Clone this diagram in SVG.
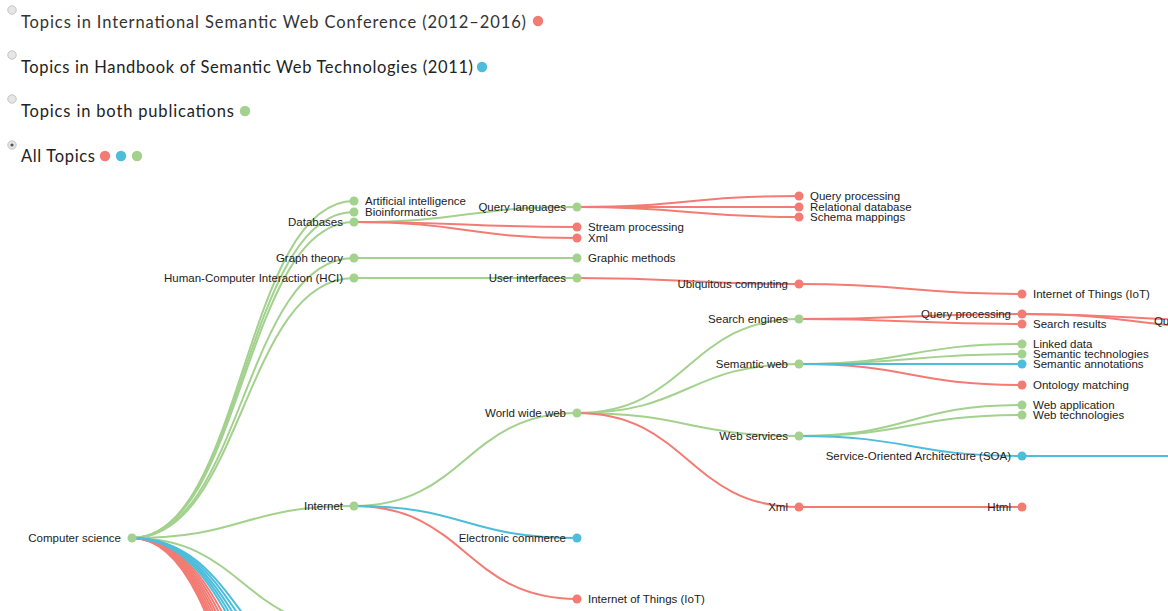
<svg xmlns="http://www.w3.org/2000/svg" width="1168" height="611" viewBox="0 0 1168 611">
<style>
.lg{font-family:Lato,"Open Sans","Noto Sans",sans-serif;font-size:16.5px;fill:#222}
.lg1{fill:#333}
.radio{fill:#e6e6e6;stroke:#c4c4c4;stroke-width:1}
.link{fill:none;stroke-width:2}
.g{stroke:#a3d18e}
.r{stroke:#f47b73}
.b{stroke:#4dbddb}
.ng{fill:#a3d18e}
.nr{fill:#f47b73}
.nb{fill:#4dbddb}
.lb{font-family:"Liberation Sans",Arial,sans-serif;font-size:11.5px;fill:#222}
.L{text-anchor:end}
</style>
<rect width="1168" height="611" fill="#ffffff"/>
<g id="legend">
<circle class="radio" cx="12" cy="10" r="4.2"/>
<text class="lg lg1" x="21" y="28" textLength="505" lengthAdjust="spacing">Topics in International Semantic Web Conference (2012–2016)</text>
<circle class="nr" cx="538" cy="21" r="5.2"/>
<circle class="radio" cx="12" cy="55" r="4.2"/>
<text class="lg" x="21" y="73" textLength="452" lengthAdjust="spacing">Topics in Handbook of Semantic Web Technologies (2011)</text>
<circle class="nb" cx="482" cy="67" r="5.2"/>
<circle class="radio" cx="12" cy="99" r="4.2"/>
<text class="lg" x="21" y="117" textLength="213" lengthAdjust="spacing">Topics in both publications</text>
<circle class="ng" cx="245" cy="111" r="5.2"/>
<circle class="radio" cx="12" cy="145" r="4.2"/>
<circle cx="12" cy="145" r="1.6" fill="#555"/>
<text class="lg" x="21" y="162" textLength="74" lengthAdjust="spacing">All Topics</text>
<circle class="nr" cx="105" cy="156" r="5.2"/>
<circle class="nb" cx="121" cy="156" r="5.2"/>
<circle class="ng" cx="137" cy="156" r="5.2"/>
</g>
<g id="connectors">
<path class="link g" d="M132,538C243,538 243,201 354,201"/>
<path class="link g" d="M132,538C243,538 243,212 354,212"/>
<path class="link g" d="M132,538C243,538 243,222 354,222"/>
<path class="link g" d="M132,538C243,538 243,258 354,258"/>
<path class="link g" d="M132,538C243,538 243,278 354,278"/>
<path class="link g" d="M132,538C243,538 243,506 354,506"/>
<path class="link g" d="M132,538C243,538 243,628 354,628"/>
<path class="link g" d="M354,222C465.5,222 465.5,207 577,207"/>
<path class="link g" d="M354,258C465.5,258 465.5,258 577,258"/>
<path class="link g" d="M354,278C465.5,278 465.5,278 577,278"/>
<path class="link g" d="M354,506C465.5,506 465.5,413 577,413"/>
<path class="link g" d="M577,413C688,413 688,319 799,319"/>
<path class="link g" d="M577,413C688,413 688,364 799,364"/>
<path class="link g" d="M577,413C688,413 688,436 799,436"/>
<path class="link g" d="M799,364C910.5,364 910.5,344 1022,344"/>
<path class="link g" d="M799,364C910.5,364 910.5,354 1022,354"/>
<path class="link g" d="M799,436C910.5,436 910.5,405 1022,405"/>
<path class="link g" d="M799,436C910.5,436 910.5,415 1022,415"/>
<path class="link r" d="M132,538C243,538 243,770 354,770"/>
<path class="link r" d="M132,538C243,538 243,790 354,790"/>
<path class="link r" d="M132,538C243,538 243,810 354,810"/>
<path class="link r" d="M132,538C243,538 243,830 354,830"/>
<path class="link r" d="M132,538C243,538 243,850 354,850"/>
<path class="link r" d="M132,538C243,538 243,870 354,870"/>
<path class="link r" d="M132,538C243,538 243,890 354,890"/>
<path class="link r" d="M132,538C243,538 243,910 354,910"/>
<path class="link r" d="M354,222C465.5,222 465.5,227 577,227"/>
<path class="link r" d="M354,222C465.5,222 465.5,238 577,238"/>
<path class="link r" d="M577,207C688,207 688,196 799,196"/>
<path class="link r" d="M577,207C688,207 688,207 799,207"/>
<path class="link r" d="M577,207C688,207 688,217 799,217"/>
<path class="link r" d="M577,278C688,278 688,284 799,284"/>
<path class="link r" d="M799,284C910.5,284 910.5,294 1022,294"/>
<path class="link r" d="M354,506C465.5,506 465.5,599 577,599"/>
<path class="link r" d="M577,413C688,413 688,507 799,507"/>
<path class="link r" d="M799,319C910.5,319 910.5,314 1022,314"/>
<path class="link r" d="M799,319C910.5,319 910.5,324 1022,324"/>
<path class="link r" d="M799,364C910.5,364 910.5,385 1022,385"/>
<path class="link r" d="M799,507C910.5,507 910.5,507 1022,507"/>
<path class="link r" d="M1022,314C1133,314 1133,321 1244,321"/>
<path class="link r" d="M1022,314C1133,314 1133,328 1244,328"/>
<path class="link b" d="M132,538C243,538 243,690 354,690"/>
<path class="link b" d="M132,538C243,538 243,705 354,705"/>
<path class="link b" d="M132,538C243,538 243,720 354,720"/>
<path class="link b" d="M132,538C243,538 243,735 354,735"/>
<path class="link b" d="M132,538C243,538 243,750 354,750"/>
<path class="link b" d="M354,506C465.5,506 465.5,538 577,538"/>
<path class="link b" d="M799,364C910.5,364 910.5,364 1022,364"/>
<path class="link b" d="M799,436C910.5,436 910.5,456 1022,456"/>
<path class="link b" d="M1022,456C1133,456 1133,456 1244,456"/>
</g>
<g id="n-computer-science"><circle class="ng" cx="132" cy="538" r="4.5"/><text class="lb L" x="121" y="542">Computer science</text></g>
<g id="n-ai"><circle class="ng" cx="354" cy="201" r="4.5"/><text class="lb" x="365" y="205">Artificial intelligence</text></g>
<g id="n-bio"><circle class="ng" cx="354" cy="212" r="4.5"/><text class="lb" x="365" y="216">Bioinformatics</text></g>
<g id="n-databases"><circle class="ng" cx="354" cy="222" r="4.5"/><text class="lb L" x="343" y="226">Databases</text></g>
<g id="n-graph-theory"><circle class="ng" cx="354" cy="258" r="4.5"/><text class="lb L" x="343" y="262">Graph theory</text></g>
<g id="n-hci"><circle class="ng" cx="354" cy="278" r="4.5"/><text class="lb L" x="343" y="282">Human-Computer Interaction (HCI)</text></g>
<g id="n-internet"><circle class="ng" cx="354" cy="506" r="4.5"/><text class="lb L" x="343" y="510">Internet</text></g>
<g id="n-query-languages"><circle class="ng" cx="577" cy="207" r="4.5"/><text class="lb L" x="566" y="211">Query languages</text></g>
<g id="n-stream-processing"><circle class="nr" cx="577" cy="227" r="4.5"/><text class="lb" x="588" y="231">Stream processing</text></g>
<g id="n-xml-1"><circle class="nr" cx="577" cy="238" r="4.5"/><text class="lb" x="588" y="242">Xml</text></g>
<g id="n-graphic-methods"><circle class="ng" cx="577" cy="258" r="4.5"/><text class="lb" x="588" y="262">Graphic methods</text></g>
<g id="n-user-interfaces"><circle class="ng" cx="577" cy="278" r="4.5"/><text class="lb L" x="566" y="282">User interfaces</text></g>
<g id="n-www"><circle class="ng" cx="577" cy="413" r="4.5"/><text class="lb L" x="566" y="417">World wide web</text></g>
<g id="n-ecommerce"><circle class="nb" cx="577" cy="538" r="4.5"/><text class="lb L" x="566" y="542">Electronic commerce</text></g>
<g id="n-iot-1"><circle class="nr" cx="577" cy="599" r="4.5"/><text class="lb" x="588" y="603">Internet of Things (IoT)</text></g>
<g id="n-query-processing-1"><circle class="nr" cx="799" cy="196" r="4.5"/><text class="lb" x="810" y="200">Query processing</text></g>
<g id="n-relational-database"><circle class="nr" cx="799" cy="207" r="4.5"/><text class="lb" x="810" y="211">Relational database</text></g>
<g id="n-schema-mappings"><circle class="nr" cx="799" cy="217" r="4.5"/><text class="lb" x="810" y="221">Schema mappings</text></g>
<g id="n-ubiquitous"><circle class="nr" cx="799" cy="284" r="4.5"/><text class="lb L" x="788" y="288">Ubiquitous computing</text></g>
<g id="n-search-engines"><circle class="ng" cx="799" cy="319" r="4.5"/><text class="lb L" x="788" y="323">Search engines</text></g>
<g id="n-semantic-web"><circle class="ng" cx="799" cy="364" r="4.5"/><text class="lb L" x="788" y="368">Semantic web</text></g>
<g id="n-web-services"><circle class="ng" cx="799" cy="436" r="4.5"/><text class="lb L" x="788" y="440">Web services</text></g>
<g id="n-xml-2"><circle class="nr" cx="799" cy="507" r="4.5"/><text class="lb L" x="788" y="511">Xml</text></g>
<g id="n-iot-2"><circle class="nr" cx="1022" cy="294" r="4.5"/><text class="lb" x="1033" y="298">Internet of Things (IoT)</text></g>
<g id="n-query-processing-2"><circle class="nr" cx="1022" cy="314" r="4.5"/><text class="lb L" x="1011" y="318">Query processing</text></g>
<g id="n-search-results"><circle class="nr" cx="1022" cy="324" r="4.5"/><text class="lb" x="1033" y="328">Search results</text></g>
<g id="n-linked-data"><circle class="ng" cx="1022" cy="344" r="4.5"/><text class="lb" x="1033" y="348">Linked data</text></g>
<g id="n-semantic-technologies"><circle class="ng" cx="1022" cy="354" r="4.5"/><text class="lb" x="1033" y="358">Semantic technologies</text></g>
<g id="n-semantic-annotations"><circle class="nb" cx="1022" cy="364" r="4.5"/><text class="lb" x="1033" y="368">Semantic annotations</text></g>
<g id="n-ontology-matching"><circle class="nr" cx="1022" cy="385" r="4.5"/><text class="lb" x="1033" y="389">Ontology matching</text></g>
<g id="n-web-application"><circle class="ng" cx="1022" cy="405" r="4.5"/><text class="lb" x="1033" y="409">Web application</text></g>
<g id="n-web-technologies"><circle class="ng" cx="1022" cy="415" r="4.5"/><text class="lb" x="1033" y="419">Web technologies</text></g>
<g id="n-soa"><circle class="nb" cx="1022" cy="456" r="4.5"/><text class="lb L" x="1011" y="460">Service-Oriented Architecture (SOA)</text></g>
<g id="n-html"><circle class="nr" cx="1022" cy="507" r="4.5"/><text class="lb L" x="1011" y="511">Html</text></g>
<g id="n-query-processing-3"><circle class="nr" cx="1252" cy="321" r="4.5"/><text class="lb L" x="1244" y="325">Query processing</text></g>
</svg>
